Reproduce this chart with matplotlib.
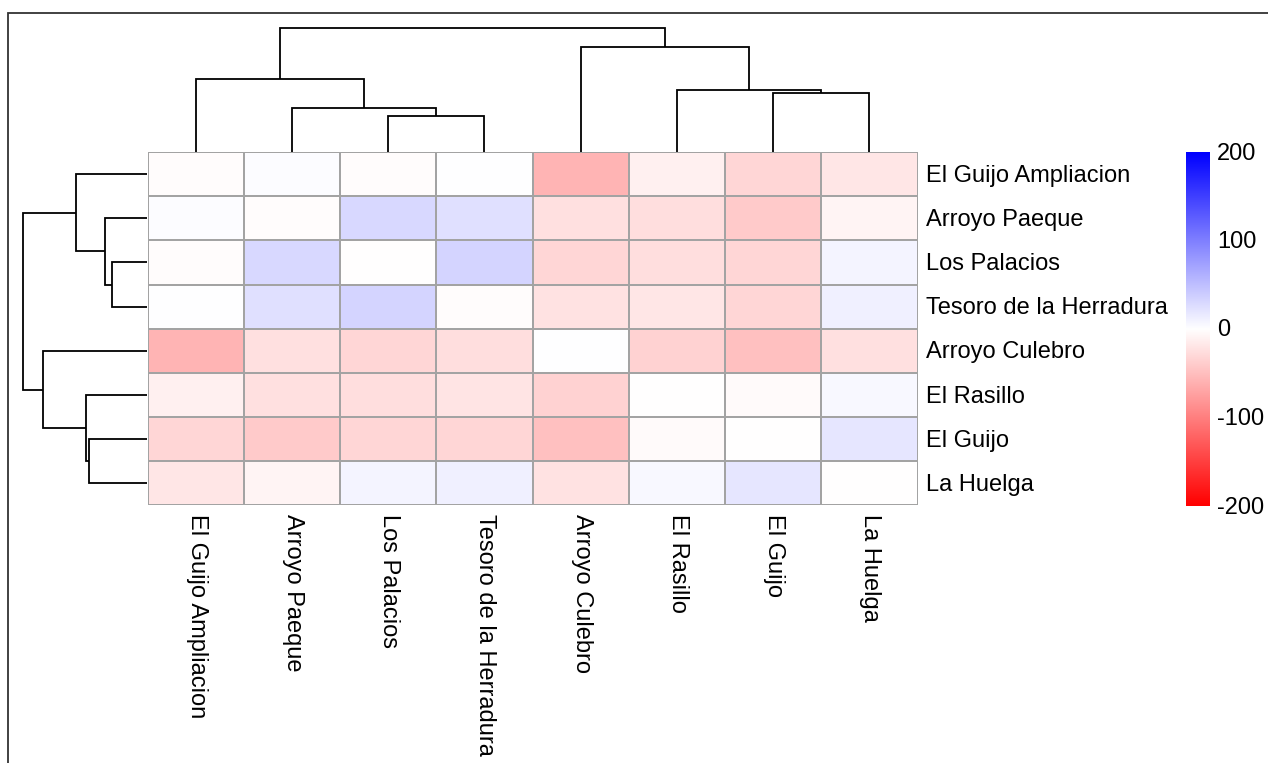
import numpy as np
import matplotlib
matplotlib.use("Agg")
import matplotlib.pyplot as plt
from matplotlib.colors import LinearSegmentedColormap, Normalize
from matplotlib.lines import Line2D

plt.rcParams["font.family"] = ["Liberation Sans", "DejaVu Sans"]

# Site names, in clustered order
row_labels = ["El Guijo Ampliacion", "Arroyo Paeque", "Los Palacios",
              "Tesoro de la Herradura", "Arroyo Culebro", "El Rasillo",
              "El Guijo", "La Huelga"]
col_labels = ["El Guijo Ampliacion", "Arroyo Paeque", "Los Palacios",
              "Tesoro de la Herradura", "Arroyo Culebro", "El Rasillo",
              "El Guijo", "La Huelga"]

# Cell values (rows x columns)
values = [
    [-2, 3, -2, 0, -59, -12, -32, -20],
    [3, -2, 31, 24, -24, -26, -42, -9],
    [-2, 31, -1, 34, -32, -26, -32, 8],
    [0, 24, 34, -2, -23, -20, -32, 12],
    [-59, -24, -32, -26, 0, -35, -49, -24],
    [-12, -24, -26, -21, -35, -1, -4, 5],
    [-32, -42, -32, -32, -49, -4, -1, 20],
    [-20, -9, 8, 12, -23, 5, 20, -1],
]

# Hierarchical clustering merges: (left, right, height); new nodes numbered from 8
col_merges = [(2, 3, 0.287), (1, 8, 0.349), (0, 9, 0.583), (6, 7, 0.470),
              (5, 11, 0.497), (4, 12, 0.842), (10, 13, 1.0)]
row_merges = [(2, 3, 0.279), (1, 8, 0.338), (0, 9, 0.573), (6, 7, 0.465),
              (5, 11, 0.489), (4, 12, 0.838), (10, 13, 1.0)]

cbar_ticks = [200, 100, 0, -100, -200]
vmin, vmax = -200, 200

W, H = 1268, 763
fig = plt.figure(figsize=(W / 100, H / 100), dpi=100)


def box(x0, y0, x1, y1):
    """Pixel box (top-left origin) -> figure rect."""
    return [x0 / W, 1 - y1 / H, (x1 - x0) / W, (y1 - y0) / H]


def fpos(x, y):
    return x / W, 1 - y / H


cmap = LinearSegmentedColormap.from_list("rwb", ["#FF0000", "#FFFFFF", "#0000FF"])
norm = Normalize(vmin=vmin, vmax=vmax)

HX0, HX1, HY0, HY1 = 147.5, 917.5, 152, 505.5
n_rows, n_cols = len(row_labels), len(col_labels)

# Heatmap
ax = fig.add_axes(box(HX0, HY0, HX1, HY1))
data = np.array(values, dtype=float)
ax.pcolormesh(np.arange(n_cols + 1), np.arange(n_rows + 1), data, cmap=cmap,
              norm=norm, edgecolors="#A3A3A3", linewidth=1.4)
ax.set_xlim(0, n_cols)
ax.set_ylim(n_rows, 0)
ax.axis("off")


def dendro_segments(merges, n):
    pos = {i: i + 0.5 for i in range(n)}
    ht = {i: 0.0 for i in range(n)}
    segs = []
    for k, (a, b, h) in enumerate(merges):
        segs.append(([pos[a], pos[a], pos[b], pos[b]], [ht[a], h, h, ht[b]]))
        pos[n + k] = (pos[a] + pos[b]) / 2
        ht[n + k] = h
    return segs


# Column dendrogram
axc = fig.add_axes(box(HX0, 27.7, HX1, 151.5))
for xs, hs in dendro_segments(col_merges, n_cols):
    axc.plot(xs, hs, color="black", lw=1.3, clip_on=False,
             solid_capstyle="butt", solid_joinstyle="miter")
axc.set_xlim(0, n_cols)
axc.set_ylim(0, 1)
axc.axis("off")

# Row dendrogram
axr = fig.add_axes(box(23.3, HY0, 146.7, HY1))
for ys, hs in dendro_segments(row_merges, n_rows):
    axr.plot(hs, ys, color="black", lw=1.3, clip_on=False,
             solid_capstyle="butt", solid_joinstyle="miter")
axr.set_xlim(1, 0)
axr.set_ylim(n_rows, 0)
axr.axis("off")

# Labels
fs = 17
cell_h = (HY1 - HY0) / n_rows
cell_w = (HX1 - HX0) / n_cols
for i, lab in enumerate(row_labels):
    fig.text(*fpos(926, HY0 + (i + 0.5) * cell_h + 1.5), lab, fontsize=fs,
             ha="left", va="center")
for j, lab in enumerate(col_labels):
    fig.text(*fpos(HX0 + (j + 0.5) * cell_w + 1, 514), lab, fontsize=fs,
             rotation=-90, ha="center", va="top")

# Colour bar
CB0, CB1 = 152, 506
axb = fig.add_axes(box(1186, CB0, 1210, CB1))
grad = np.linspace(vmax, vmin, 256).reshape(-1, 1)
axb.imshow(grad, cmap=cmap, norm=norm, aspect="auto",
           extent=[0, 1, vmin, vmax], interpolation="bilinear")
axb.axis("off")
for t in cbar_ticks:
    y = CB0 + (vmax - t) / (vmax - vmin) * (CB1 - CB0) + 1.5
    fig.text(*fpos(1217, y), str(t), fontsize=fs, ha="left", va="center")

# Outer frame (top and left edges)
fig.add_artist(Line2D([1, 8 / W, 8 / W], [1 - 12.5 / H, 1 - 12.5 / H, 0],
                      transform=fig.transFigure, color="#333333", lw=1.3,
                      solid_joinstyle="miter"))

fig.savefig("out.png", dpi=100, facecolor="white")
